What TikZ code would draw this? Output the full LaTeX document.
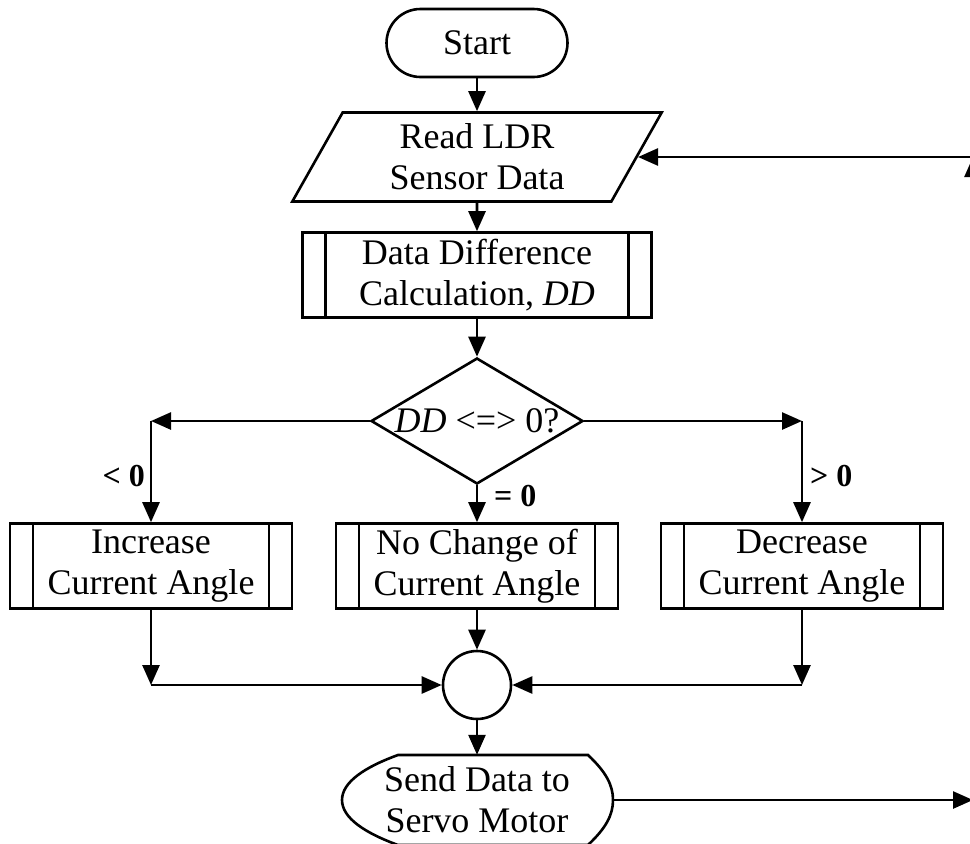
\documentclass[tikz,border=0pt]{standalone}
\usepackage{fontspec}
\setmainfont{Liberation Serif}
\usepackage{tikz}
\usetikzlibrary{positioning, calc, shapes.geometric, arrows.meta}

\tikzset{
    every node/.style={font=\fontsize{36}{41}\selectfont, align=center, inner sep=0pt},
    flowline/.style={line width=2.6pt},
    arr/.style={flowline, -{Triangle[length=20pt,width=17pt]}},
    terminal/.style={draw, flowline, rectangle, rounded corners=34pt, minimum width=181pt, minimum height=68pt},
    iobox/.style={draw, flowline, trapezium, trapezium left angle=63.7, trapezium right angle=116.3,
        trapezium stretches=true, minimum width=370pt, minimum height=89pt},
    subproc/.style={draw, flowline, rectangle, minimum height=85pt, path picture={
        \draw[flowline] ([xshift=23pt]path picture bounding box.north west) -- ([xshift=23pt]path picture bounding box.south west);
        \draw[flowline] ([xshift=-23pt]path picture bounding box.north east) -- ([xshift=-23pt]path picture bounding box.south east);}},
    decision/.style={draw, flowline, diamond, shape aspect=1.68, minimum width=212pt, minimum height=126pt},
    junction/.style={draw, flowline, circle, minimum size=68pt},
    branch/.style={font=\bfseries\fontsize{32}{36}\selectfont},
}

\begin{document}
\begin{tikzpicture}[x=1pt, y=-1pt]
        \useasboundingbox (0,0) rectangle (970,844);
        \node[terminal] (start) at (477,43) {Start};
        \node[iobox] (read) at (477,157) {Read LDR\\Sensor Data};
        \node[subproc, minimum width=349pt] (ddcalc) at (477,275) {Data Difference\\Calculation, \textit{DD}};
        \node[decision] (dd) at (477,421) {\textit{DD} <=> 0?};
        \node[subproc, minimum width=282pt] (inc) at (151,566) {Increase\\Current Angle};
        \node[subproc, minimum width=282pt] (keep) at (477,566) {No Change of\\Current Angle};
        \node[subproc, minimum width=282pt] (dec) at (802,566) {Decrease\\Current Angle};
        \node[junction] (join) at (477,685) {};
        \node[minimum width=271pt, minimum height=90pt] (send) at (477,800) {Send Data to\\Servo Motor};
        \draw[flowline, shift={(send.center)}] (-79,-45) -- (111,-45)
            .. controls (129,-28) and (136,-15) .. (136,0)
            .. controls (136,15) and (129,28) .. (111,45) -- (-79,45)
            .. controls (-112,33) and (-135,18) .. (-135,0)
            .. controls (-135,-18) and (-112,-33) .. cycle;

        \coordinate (ltop) at (inc |- dd);
        \coordinate (rtop) at (dec |- dd);
        \coordinate (lbot) at (inc |- join);
        \coordinate (rbot) at (dec |- join);
        \coordinate (sout) at (973,800);
        \coordinate (sback) at (sout |- read.east);

        \draw[arr] (start) -- (read);
        \draw[arr] (read) -- (ddcalc);
        \draw[arr] (ddcalc) -- (dd);
        \draw[arr] (dd.west) -- (ltop);
        \draw[arr] (ltop) -- (inc);
        \draw[arr] (dd.east) -- (rtop);
        \draw[arr] (rtop) -- (dec);
        \draw[arr] (dd) -- (keep);
        \draw[arr] (inc) -- (lbot);
        \draw[arr] (lbot) -- (join);
        \draw[arr] (dec) -- (rbot);
        \draw[arr] (rbot) -- (join);
        \draw[arr] (keep) -- (join);
        \draw[arr] (join) -- (send);
        \draw[arr] (send) -- (sout);
        \draw[arr] (sout) -- (sback);
        \draw[arr] (sback) -- (read.east);

        \node[branch, anchor=east] (lless) at (145,476) {< 0};
        \node[branch, anchor=west] (lmore) at (810,476) {> 0};
        \node[branch, anchor=west] (lequal) at (494,496) {= 0};
    \end{tikzpicture}
\end{document}
